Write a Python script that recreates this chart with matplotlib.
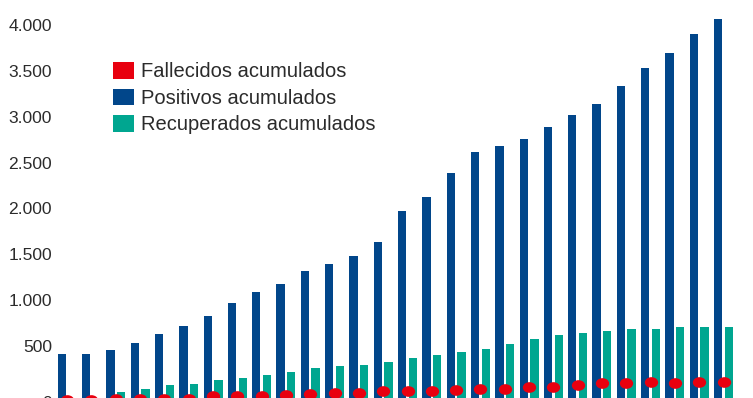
import matplotlib
matplotlib.use("Agg")
import matplotlib.pyplot as plt
from matplotlib.patches import Patch
from matplotlib.path import Path
from matplotlib.transforms import Affine2D, ScaledTranslation
import numpy as np

# ---- data ----
positivos = [505, 505, 550, 625, 720, 810, 925, 1065, 1180, 1265, 1410, 1485, 1580, 1730,
             2065, 2220, 2480, 2705, 2780, 2855, 2985, 3115, 3235, 3435, 3625, 3790, 3995, 4165]
recuperados = [0, 0, 89, 129, 166, 183, 224, 245, 275, 307, 351, 373, 387, 423,
               467, 500, 525, 565, 619, 667, 711, 733, 758, 783, 783, 802, 802, 802]
fallecidos = [10, 10, 11, 11, 12, 12, 45, 47, 48, 65, 66, 84, 85, 106,
              108, 109, 110, 128, 129, 145, 146, 167, 190, 186, 202, 186, 203, 204]
y_ticks = [0, 500, 1000, 1500, 2000, 2500, 3000, 3500, 4000]
y_tick_labels = ["0", "500", "1.000", "1.500", "2.000", "2.500", "3.000", "3.500", "4.000"]
legend_labels = ["Fallecidos acumulados", "Positivos acumulados", "Recuperados acumulados"]

RED = "#e8000f"
BLUE = "#01468a"
TEAL = "#00a690"
TXT = "#2b2b2b"

plt.rcParams["font.family"] = ["Liberation Sans", "DejaVu Sans"]

W, H = 753, 398
fig = plt.figure(figsize=(W / 100, H / 100), dpi=100)
fig.patch.set_facecolor("white")

ax = fig.add_axes([52.6 / W, -8 / H, (738.1 - 52.6) / W, 406 / H])
ax.set_facecolor("white")

x = np.arange(len(positivos))
bw = 0.341
off = 0.22
ax.bar(x - off, positivos, width=bw, color=BLUE, linewidth=0, zorder=2)
ax.bar(x + off, recuperados, width=bw, color=TEAL, linewidth=0, zorder=2)

ellipse = Path.unit_circle().transformed(Affine2D().scale(1.0, 0.8))
ax.plot(x, fallecidos, linestyle="none", marker=ellipse, markersize=9.6,
        color=RED, markeredgewidth=0, zorder=3)

ax.set_xlim(-0.6, 27.6)
ax.set_ylim(-60, 4367.5)
ax.set_xticks([])
ax.set_yticks(y_ticks)
ax.set_yticklabels(y_tick_labels, fontsize=12.6, color=TXT)
ax.tick_params(axis="y", length=0, pad=0.5)
for s in ax.spines.values():
    s.set_visible(False)

# tick labels sit slightly above their gridline values in the reference
for val, lab in zip(y_ticks, ax.get_yticklabels()):
    dy = -1.5 if val == 0 else 8.7
    lab.set_transform(lab.get_transform() + ScaledTranslation(0, dy / 100, fig.dpi_scale_trans))

handles = [Patch(facecolor=RED, edgecolor="none"),
           Patch(facecolor=BLUE, edgecolor="none"),
           Patch(facecolor=TEAL, edgecolor="none")]
leg = fig.legend(handles, legend_labels, loc="upper left",
                 bbox_to_anchor=(112.7 / W, 1 - 62 / H), bbox_transform=fig.transFigure,
                 frameon=False, fontsize=14.5, handlelength=1.04, handleheight=0.9,
                 handletextpad=0.37, labelspacing=0.36, borderpad=0, borderaxespad=0)
for t in leg.get_texts():
    t.set_color(TXT)

fig.savefig("out.png", dpi=100, facecolor="white")
